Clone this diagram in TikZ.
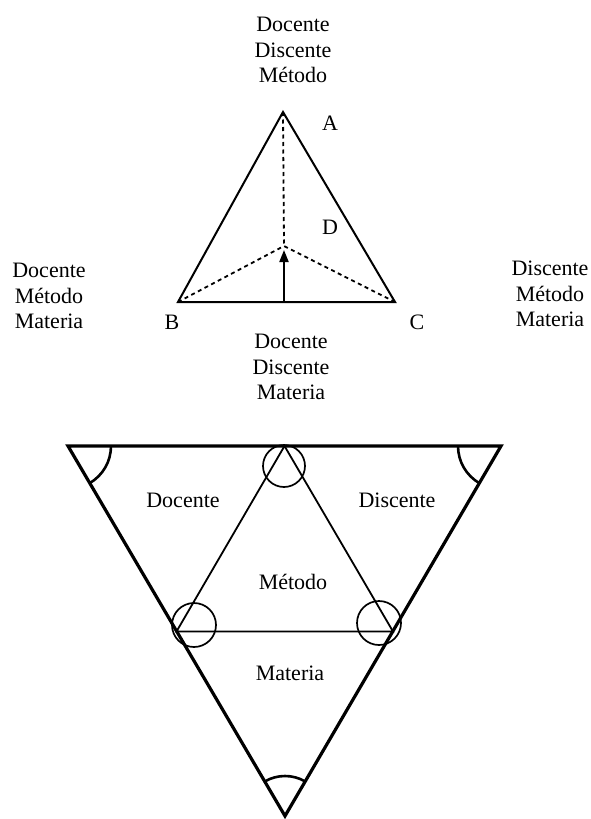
\documentclass[tikz,border=0pt]{standalone}
\usepackage{fontspec}
\setmainfont{Liberation Serif}
\usetikzlibrary{arrows.meta,calc}
\begin{document}
\begin{tikzpicture}[x=1pt,y=-1pt,
  lbl/.style={font=\fontsize{22}{25.5}\selectfont, align=center, inner sep=0pt},
  solidedge/.style={line width=2pt, line join=miter},
  dashedge/.style={line width=1.8pt, dash pattern=on 4pt off 3.5pt},
  outeredge/.style={line width=3.2pt, line join=miter},
  inneredge/.style={line width=1.8pt},
  ring/.style={line width=1.7pt},
  anglearc/.style={line width=2.6pt},
  arrowline/.style={line width=2pt, -{Triangle[length=12pt,width=9pt]}}
]
\useasboundingbox (0,0) rectangle (591,819);

% ---- upper figure ----
\coordinate (A) at (283,112);
\coordinate (B) at (178,302);
\coordinate (C) at (395,302);
\coordinate (D) at (284,246);
\coordinate (E) at (284,302);
\coordinate (Etip) at (284,250);

\draw[solidedge] (A) -- (B) -- (C) -- cycle;
\draw[dashedge] (A) -- (D);
\draw[dashedge] (B) -- (D);
\draw[dashedge] (C) -- (D);
\draw[arrowline] (E) -- (Etip);

\node[lbl] (labA) at (330,123) {A};
\node[lbl] (labB) at (172,322) {B};
\node[lbl] (labC) at (417,322) {C};
\node[lbl] (labD) at (330,227) {D};

\node[lbl] (topset) at (293,50) {Docente\\Discente\\Método};
\node[lbl] (leftset) at (49,296) {Docente\\Método\\Materia};
\node[lbl] (rightset) at (550,294) {Discente\\Método\\Materia};
\node[lbl] (botset) at (291,367) {Docente\\Discente\\Materia};

% ---- lower figure ----
\coordinate (TL) at (68,446);
\coordinate (TR) at (501,446);
\coordinate (BT) at (285,816);
\coordinate (MT) at (284.5,446);
\coordinate (ML) at (176.5,631.5);
\coordinate (MR) at (393,631.5);

\draw[outeredge] (TL) -- (TR) -- (BT) -- cycle;
\draw[inneredge] (ML) -- (MT) -- (MR) -- cycle;

\draw[anglearc] ($(TL)+(0:43)$) arc[start angle=0, end angle=60, radius=43];
\draw[anglearc] ($(TR)+(180:43)$) arc[start angle=180, end angle=120, radius=43];
\draw[anglearc] ($(BT)+(240:40)$) arc[start angle=240, end angle=300, radius=40];

\draw[ring] (284,466) circle[radius=21];
\draw[ring] (194,625) circle[radius=22];
\draw[ring] (379,623) circle[radius=22];

\node[lbl] (reg1) at (183,500) {Docente};
\node[lbl] (reg2) at (397,500) {Discente};
\node[lbl] (reg3) at (293,582) {Método};
\node[lbl] (reg4) at (290,673) {Materia};
\end{tikzpicture}
\end{document}
